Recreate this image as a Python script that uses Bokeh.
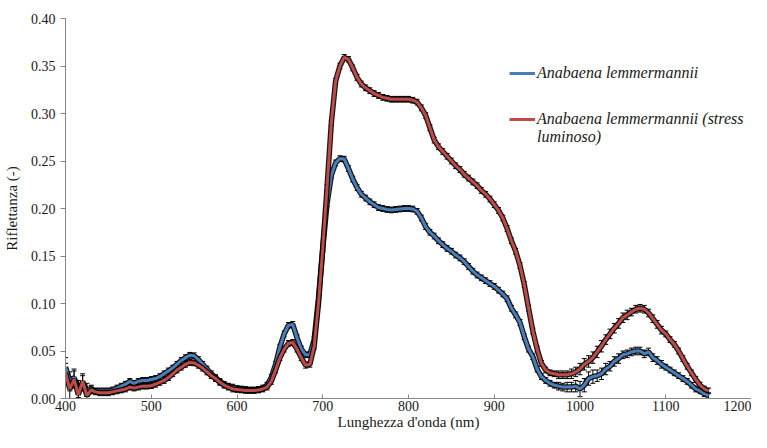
from bokeh.plotting import figure
from bokeh.models import (ColumnDataSource, Whisker, TeeHead, Legend, LegendItem,
                          FixedTicker, NumeralTickFormatter, Range1d)
from bokeh.embed import file_html
from bokeh.resources import INLINE

wavelength = list(range(400, 1151, 5))

blue_vals = [
    0.033, 0.018, 0.022, 0.010, 0.016, 0.009, 0.010, 0.008, 0.008, 0.008,   # 400-445
    0.008, 0.009, 0.011, 0.013, 0.015, 0.018, 0.016, 0.018, 0.019, 0.019,   # 450-495
    0.020, 0.021, 0.023, 0.026, 0.029, 0.032, 0.036, 0.040, 0.043, 0.0455,  # 500-545
    0.045, 0.041, 0.036, 0.031, 0.026, 0.022, 0.018, 0.015, 0.013, 0.012,   # 550-595
    0.0105, 0.010, 0.0095, 0.009, 0.009, 0.0095, 0.011, 0.014, 0.022, 0.036,  # 600-645
    0.054, 0.068, 0.077, 0.078, 0.064, 0.052, 0.046, 0.046, 0.062, 0.105,   # 650-695
    0.158, 0.205, 0.235, 0.248, 0.2525, 0.252, 0.242, 0.231, 0.222, 0.215,  # 700-745
    0.211, 0.207, 0.204, 0.201, 0.200, 0.199, 0.1985, 0.199, 0.1995, 0.200,  # 750-795
    0.200, 0.1995, 0.197, 0.190, 0.181, 0.175, 0.171, 0.166, 0.162, 0.158,  # 800-845
    0.155, 0.151, 0.148, 0.144, 0.139, 0.134, 0.130, 0.127, 0.124, 0.121,   # 850-895
    0.118, 0.114, 0.110, 0.105, 0.095, 0.088, 0.080, 0.065, 0.052, 0.044,   # 900-945
    0.031, 0.023, 0.019, 0.016, 0.014, 0.013, 0.012, 0.012, 0.012, 0.013,   # 950-995
    0.010, 0.014, 0.021, 0.023, 0.024, 0.026, 0.031, 0.034, 0.039, 0.042,   # 1000-1045
    0.046, 0.047, 0.049, 0.050, 0.050, 0.047, 0.049, 0.043, 0.040, 0.036,   # 1050-1095
    0.033, 0.030, 0.027, 0.024, 0.021, 0.018, 0.014, 0.010, 0.008, 0.005,   # 1100-1145
    0.003,                                                                  # 1150
]

red_vals = [
    0.027, 0.010, 0.020, 0.004, 0.018, 0.003, 0.009, 0.007, 0.006, 0.006,   # 400-445
    0.006, 0.007, 0.008, 0.009, 0.010, 0.012, 0.011, 0.012, 0.013, 0.013,   # 450-495
    0.0135, 0.015, 0.017, 0.019, 0.022, 0.026, 0.030, 0.033, 0.036, 0.038,  # 500-545
    0.0375, 0.035, 0.032, 0.028, 0.024, 0.021, 0.017, 0.014, 0.012, 0.010,  # 550-595
    0.0095, 0.009, 0.0085, 0.0085, 0.0085, 0.009, 0.010, 0.012, 0.018, 0.030,  # 600-645
    0.043, 0.052, 0.058, 0.059, 0.052, 0.043, 0.035, 0.036, 0.055, 0.100,   # 650-695
    0.158, 0.222, 0.290, 0.334, 0.350, 0.359, 0.357, 0.348, 0.338, 0.331,   # 700-745
    0.327, 0.324, 0.321, 0.319, 0.317, 0.316, 0.315, 0.315, 0.315, 0.315,   # 750-795
    0.315, 0.314, 0.312, 0.306, 0.298, 0.285, 0.272, 0.265, 0.260, 0.255,   # 800-845
    0.250, 0.245, 0.241, 0.236, 0.232, 0.228, 0.224, 0.219, 0.215, 0.210,   # 850-895
    0.204, 0.198, 0.190, 0.179, 0.166, 0.155, 0.140, 0.120, 0.095, 0.071,   # 900-945
    0.052, 0.037, 0.030, 0.027, 0.026, 0.025, 0.025, 0.025, 0.026, 0.028,   # 950-995
    0.031, 0.036, 0.039, 0.043, 0.049, 0.055, 0.062, 0.068, 0.074, 0.079,   # 1000-1045
    0.085, 0.088, 0.091, 0.094, 0.095, 0.094, 0.090, 0.084, 0.078, 0.072,   # 1050-1095
    0.068, 0.062, 0.057, 0.050, 0.042, 0.034, 0.027, 0.020, 0.014, 0.010,   # 1100-1145
    0.008,                                                                  # 1150
]

blue_err = [
    0.010, 0.010, 0.009, 0.009, 0.008, 0.007, 0.004, 0.003, 0.003, 0.003,
    0.003, 0.003, 0.003, 0.003, 0.003, 0.003, 0.003, 0.003, 0.003, 0.003,
    0.003, 0.003, 0.003, 0.003, 0.003, 0.003, 0.003, 0.003, 0.003, 0.003,
    0.003, 0.003, 0.003, 0.003, 0.003, 0.003, 0.003, 0.003, 0.003, 0.003,
    0.003, 0.003, 0.003, 0.003, 0.003, 0.003, 0.003, 0.003, 0.003, 0.003,
    0.003, 0.003, 0.003, 0.003, 0.003, 0.003, 0.003, 0.003, 0.003, 0.003,
    0.003, 0.003, 0.003, 0.003, 0.003, 0.003, 0.003, 0.003, 0.003, 0.003,
    0.003, 0.003, 0.003, 0.003, 0.003, 0.003, 0.003, 0.003, 0.003, 0.003,
    0.003, 0.003, 0.003, 0.003, 0.003, 0.003, 0.003, 0.003, 0.003, 0.003,
    0.003, 0.003, 0.003, 0.003, 0.003, 0.003, 0.003, 0.003, 0.003, 0.003,
    0.003, 0.003, 0.003, 0.003, 0.003, 0.003, 0.003, 0.003, 0.003, 0.003,
    0.003, 0.003, 0.003, 0.003, 0.003, 0.004, 0.004, 0.005, 0.005, 0.006,
    0.008, 0.007, 0.007, 0.007, 0.006, 0.006, 0.006, 0.005, 0.005, 0.005,
    0.004, 0.004, 0.004, 0.004, 0.004, 0.004, 0.004, 0.004, 0.004, 0.004,
    0.003, 0.003, 0.003, 0.003, 0.003, 0.003, 0.003, 0.003, 0.003, 0.003,
    0.003,
]

red_err = [
    0.010, 0.010, 0.009, 0.009, 0.008, 0.007, 0.004, 0.003, 0.003, 0.003,
    0.003, 0.003, 0.003, 0.003, 0.003, 0.003, 0.003, 0.003, 0.003, 0.003,
    0.003, 0.003, 0.003, 0.003, 0.003, 0.003, 0.003, 0.003, 0.003, 0.003,
    0.003, 0.003, 0.003, 0.003, 0.003, 0.003, 0.003, 0.003, 0.003, 0.003,
    0.003, 0.003, 0.003, 0.003, 0.003, 0.003, 0.003, 0.003, 0.003, 0.003,
    0.003, 0.003, 0.003, 0.003, 0.003, 0.003, 0.003, 0.003, 0.003, 0.003,
    0.003, 0.003, 0.003, 0.003, 0.003, 0.003, 0.003, 0.003, 0.003, 0.003,
    0.003, 0.003, 0.003, 0.003, 0.003, 0.003, 0.003, 0.003, 0.003, 0.003,
    0.003, 0.003, 0.003, 0.003, 0.003, 0.003, 0.003, 0.003, 0.003, 0.003,
    0.003, 0.003, 0.003, 0.003, 0.003, 0.003, 0.003, 0.003, 0.003, 0.003,
    0.003, 0.003, 0.003, 0.003, 0.003, 0.003, 0.003, 0.003, 0.003, 0.003,
    0.003, 0.003, 0.003, 0.003, 0.003, 0.004, 0.004, 0.004, 0.005, 0.005,
    0.006, 0.006, 0.006, 0.006, 0.006, 0.006, 0.005, 0.005, 0.005, 0.005,
    0.005, 0.005, 0.004, 0.004, 0.004, 0.004, 0.004, 0.004, 0.004, 0.004,
    0.003, 0.003, 0.003, 0.003, 0.003, 0.003, 0.003, 0.003, 0.003, 0.003,
    0.003,
]

series_names = ["Anabaena lemmermannii", "Anabaena lemmermannii (stress", "luminoso)"]
series_colors = ["#4A7EBB", "#BE4B48"]
x_ticks = [400, 500, 600, 700, 800, 900, 1000, 1100, 1200]
y_ticks = [0.0, 0.05, 0.10, 0.15, 0.20, 0.25, 0.30, 0.35, 0.40]

FONT = "Liberation Serif"

p = figure(width=751, height=432, output_backend="svg", toolbar_location=None,
           x_range=Range1d(400, 1200), y_range=Range1d(0, 0.40),
           min_border_left=58, min_border_right=0, min_border_top=18, min_border_bottom=30)
p.outline_line_color = None
p.xgrid.visible = False
p.ygrid.visible = False

renderers = []
for vals, errs, color in [(blue_vals, blue_err, series_colors[0]), (red_vals, red_err, series_colors[1])]:
    src = ColumnDataSource(dict(x=wavelength, y=vals,
                                lo=[v - e for v, e in zip(vals, errs)],
                                hi=[v + e for v, e in zip(vals, errs)]))
    w = Whisker(base="x", upper="hi", lower="lo", source=src, level="underlay",
                line_color="black", line_width=1,
                upper_head=TeeHead(size=5, line_color="black", line_width=1),
                lower_head=TeeHead(size=5, line_color="black", line_width=1))
    p.add_layout(w)
    p.line("x", "y", source=src, line_color="black", line_width=5.5, line_alpha=0.9)
    r = p.line("x", "y", source=src, line_color=color, line_width=3)
    renderers.append(r)

# invisible renderer used only for the wrapped second line of the legend label
blank = p.line(x=[], y=[], line_alpha=0)

legend_style = dict(border_line_color=None, background_fill_alpha=0,
                    label_text_font=FONT, label_text_font_style="italic",
                    label_text_font_size="16px", label_text_color="#1a1a1a",
                    glyph_width=26, glyph_height=16, label_standoff=2,
                    label_height=18, padding=4, margin=0)
legend_a = Legend(items=[LegendItem(label=series_names[0], renderers=[renderers[0]])],
                  location=(444, 316), **legend_style)
legend_b = Legend(items=[LegendItem(label=series_names[1], renderers=[renderers[1]]),
                         LegendItem(label=series_names[2], renderers=[blank])],
                  location=(444, 252), spacing=0, **legend_style)
p.add_layout(legend_a)
p.add_layout(legend_b)

p.xaxis.ticker = FixedTicker(ticks=x_ticks)
p.yaxis.ticker = FixedTicker(ticks=y_ticks)
p.yaxis.formatter = NumeralTickFormatter(format="0.00")
for ax in (p.xaxis, p.yaxis):
    ax.axis_line_color = "#868686"
    ax.major_tick_line_color = "#868686"
    ax.minor_tick_line_color = None
    ax.major_label_text_font = FONT
    ax.major_label_text_font_size = "14px"
    ax.major_label_text_color = "#1a1a1a"
    ax.axis_label_text_font = FONT
    ax.axis_label_text_font_size = "15px"
    ax.axis_label_text_font_style = "normal"
    ax.axis_label_text_color = "#1a1a1a"
p.xaxis.major_tick_in = 4
p.xaxis.major_tick_out = 0
p.yaxis.major_tick_in = 0
p.yaxis.major_tick_out = 5
p.xaxis.major_label_standoff = 2
p.yaxis.major_label_standoff = 5
p.xaxis.axis_label_standoff = 0
p.yaxis.axis_label_standoff = 8
p.xaxis.axis_label = "Lunghezza d'onda (nm)"
p.yaxis.axis_label = "Riflettanza (-)"

open("out.html", "w").write(file_html(p, INLINE))
